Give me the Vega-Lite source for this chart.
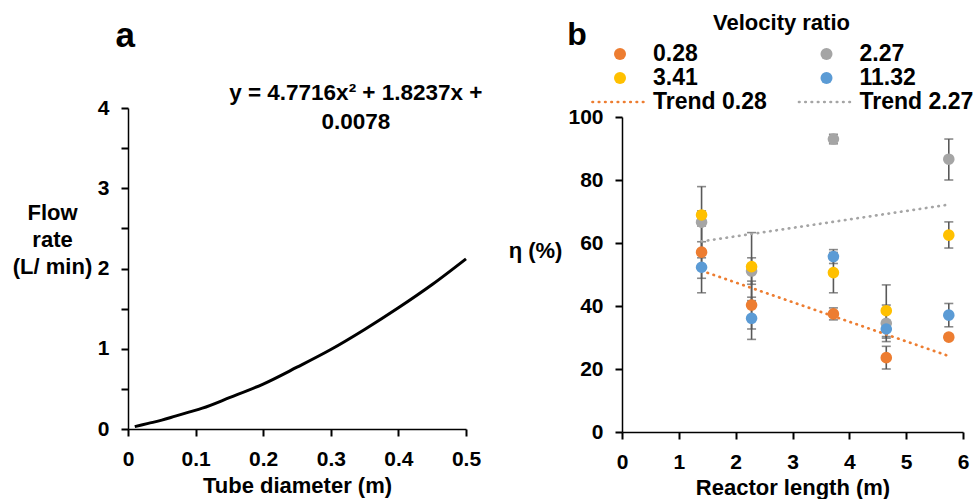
{
  "$schema": "https://vega.github.io/schema/vega-lite/v6.json",
  "background": "white",
  "padding": {"left": 12, "top": 13, "right": 0, "bottom": 0},
  "spacing": 25,
  "center": true,
  "resolve": {"scale": {"color": "independent"}, "legend": {"color": "independent"}},
  "config": {
    "view": {"stroke": null},
    "font": "Liberation Sans",
    "axis": {
      "grid": false, "ticks": true, "tickOpacity": 1,
      "labelFont": "Liberation Sans", "labelFontWeight": "bold", "labelFontSize": 21, "labelColor": "#000",
      "titleFont": "Liberation Sans", "titleFontWeight": "bold", "titleFontSize": 22, "titleColor": "#000",
      "domainColor": "#000", "domainWidth": 1.5, "tickColor": "#000", "tickWidth": 2, "tickSize": 7,
      "labelPadding": 12, "labelFlush": false, "labelOverlap": false
    },
    "legend": {
      "orient": "none", "legendX": -31.5, "legendY": -104, "direction": "horizontal",
      "columns": 2, "titleAnchor": "middle", "titleFont": "Liberation Sans", "titleFontSize": 22,
      "titleFontWeight": "bold", "titleColor": "#000", "titlePadding": 7,
      "labelFont": "Liberation Sans", "labelFontSize": 23, "labelFontWeight": "bold", "labelColor": "#000",
      "labelOffset": 21.5, "labelLimit": 300, "clipHeight": 24, "rowPadding": 0, "columnPadding": 29.5,
      "symbolOffset": 18, "padding": 0
    },
    "text": {"font": "Liberation Sans", "fontWeight": "bold", "color": "#000"}
  },
  "hconcat": [
    {
      "width": 338,
      "height": 321,
      "layer": [
        {
          "data": {"values": [
            {"x": 0.01, "y": 0.03}, {"x": 0.03, "y": 0.07}, {"x": 0.05, "y": 0.11}, {"x": 0.07, "y": 0.16},
            {"x": 0.09, "y": 0.21}, {"x": 0.11, "y": 0.26}, {"x": 0.15, "y": 0.39}, {"x": 0.2, "y": 0.56},
            {"x": 0.25, "y": 0.77}, {"x": 0.3, "y": 0.99}, {"x": 0.35, "y": 1.24}, {"x": 0.4, "y": 1.51},
            {"x": 0.45, "y": 1.8}, {"x": 0.5, "y": 2.12}
          ]},
          "mark": {"type": "line", "color": "#000", "strokeWidth": 3, "interpolate": "monotone"},
          "encoding": {
            "x": {"field": "x", "type": "quantitative", "title": ["Tube diameter (m)", " "],
              "scale": {"domain": [0, 0.5], "nice": false, "zero": false},
              "axis": {"values": [0, 0.05, 0.1, 0.15, 0.2, 0.25, 0.3, 0.35, 0.4, 0.45, 0.5],
                "ticks": true, "tickSize": 7, "tickColor": "#000", "tickWidth": 2, "tickOpacity": 1,
                "labelExpr": "round(datum.value*100) % 10 == 0 ? format(datum.value, '~g') : ''",
                "titleY": 63, "titleBaseline": "alphabetic", "titleLineHeight": 11}},
            "y": {"field": "y", "type": "quantitative", "title": ["Flow", "rate", "(L/ min)"],
              "scale": {"domain": [0, 4], "nice": false},
              "axis": {"values": [0, 0.5, 1, 1.5, 2, 2.5, 3, 3.5, 4],
                "ticks": true, "tickSize": 7, "tickColor": "#000", "tickWidth": 2, "tickOpacity": 1,
                "labelExpr": "datum.value % 1 == 0 ? format(datum.value, '~g') : ''",
                "titleAngle": 0, "titleAlign": "center", "titleBaseline": "middle",
                "titleX": -76, "titleY": 104, "titleLineHeight": 27}}
          }
        },
        {
          "data": {"values": [{"x": 0.337, "y": 4.1, "t": "y = 4.7716x² + 1.8237x +\n0.0078"}]},
          "mark": {"type": "text", "fontSize": 22.5, "lineBreak": "\n", "lineHeight": 29, "baseline": "alphabetic", "align": "center"},
          "encoding": {
            "x": {"field": "x", "type": "quantitative", "title": ["Tube diameter (m)", " "]},
            "y": {"field": "y", "type": "quantitative", "title": ["Flow", "rate", "(L/ min)"]},
            "text": {"field": "t"}
          }
        },
        {
          "data": {"values": [{"x": -0.004, "y": 4.76, "t": "a"}]},
          "mark": {"type": "text", "fontSize": 35, "baseline": "alphabetic", "align": "center"},
          "encoding": {
            "x": {"field": "x", "type": "quantitative", "title": ["Tube diameter (m)", " "]},
            "y": {"field": "y", "type": "quantitative", "title": ["Flow", "rate", "(L/ min)"]},
            "text": {"field": "t"}
          }
        }
      ]
    },
    {
      "width": 341,
      "height": 315,
      "layer": [
        {
          "data": {"name": "pts", "values": [
            {"s": "0.28", "x": 1.4, "y": 57.1, "lo": 48.8, "hi": 65.4},
            {"s": "0.28", "x": 2.28, "y": 40.3, "lo": 32.7, "hi": 47.9},
            {"s": "0.28", "x": 3.72, "y": 37.5, "lo": 35.6, "hi": 39.4},
            {"s": "0.28", "x": 4.65, "y": 23.6, "lo": 20.0, "hi": 27.2},
            {"s": "0.28", "x": 5.75, "y": 30.1, "lo": 29.2, "hi": 31.0},
            {"s": "2.27", "x": 1.4, "y": 66.6, "lo": 55.3, "hi": 77.9},
            {"s": "2.27", "x": 2.28, "y": 51.1, "lo": 46.9, "hi": 55.3},
            {"s": "2.27", "x": 3.72, "y": 93.0, "lo": 91.5, "hi": 94.5},
            {"s": "2.27", "x": 4.65, "y": 34.5, "lo": 28.7, "hi": 40.3},
            {"s": "2.27", "x": 5.75, "y": 86.6, "lo": 80.0, "hi": 93.0},
            {"s": "3.41", "x": 1.4, "y": 68.9, "lo": 67.6, "hi": 70.2},
            {"s": "3.41", "x": 2.28, "y": 52.5, "lo": 41.7, "hi": 63.3},
            {"s": "3.41", "x": 3.72, "y": 50.6, "lo": 44.2, "hi": 57.0},
            {"s": "3.41", "x": 4.65, "y": 38.5, "lo": 30.3, "hi": 46.7},
            {"s": "3.41", "x": 5.75, "y": 62.5, "lo": 58.4, "hi": 66.7},
            {"s": "11.32", "x": 1.4, "y": 52.3, "lo": 44.2, "hi": 60.4},
            {"s": "11.32", "x": 2.28, "y": 36.1, "lo": 29.4, "hi": 42.8},
            {"s": "11.32", "x": 3.72, "y": 55.7, "lo": 53.5, "hi": 57.9},
            {"s": "11.32", "x": 4.65, "y": 32.7, "lo": 29.8, "hi": 35.4},
            {"s": "11.32", "x": 5.75, "y": 37.1, "lo": 33.4, "hi": 40.8}
          ]},
          "mark": {"type": "rule", "color": "#595959", "strokeWidth": 1.6},
          "encoding": {
            "x": {"field": "x", "type": "quantitative", "title": "Reactor length (m)",
              "scale": {"domain": [0, 6], "nice": false},
              "axis": {"values": [0, 0.5, 1, 1.5, 2, 2.5, 3, 3.5, 4, 4.5, 5, 5.5, 6],
                "ticks": true, "tickSize": 7, "tickColor": "#000", "tickWidth": 2, "tickOpacity": 1,
                "labelExpr": "datum.value % 1 == 0 ? format(datum.value, '~g') : ''",
                "titleY": 62, "titleBaseline": "alphabetic"}},
            "y": {"field": "lo", "type": "quantitative", "title": "η (%)",
              "scale": {"domain": [0, 100], "nice": false},
              "axis": {"values": [0, 10, 20, 30, 40, 50, 60, 70, 80, 90, 100],
                "ticks": true, "tickSize": 7, "tickColor": "#000", "tickWidth": 2, "tickOpacity": 1,
                "labelExpr": "datum.value % 20 == 0 ? format(datum.value, '~g') : ''",
                "titleAngle": 0, "titleAlign": "center", "titleBaseline": "middle",
                "titleX": -87, "titleY": 133}},
            "y2": {"field": "hi"}
          }
        },
        {
          "data": {"name": "pts"},
          "mark": {"type": "tick", "orient": "horizontal", "color": "#595959", "size": 9, "thickness": 1.6},
          "encoding": {
            "x": {"field": "x", "type": "quantitative", "title": "Reactor length (m)"},
            "y": {"field": "lo", "type": "quantitative", "title": "η (%)"}
          }
        },
        {
          "data": {"name": "pts"},
          "mark": {"type": "tick", "orient": "horizontal", "color": "#595959", "size": 9, "thickness": 1.6},
          "encoding": {
            "x": {"field": "x", "type": "quantitative", "title": "Reactor length (m)"},
            "y": {"field": "hi", "type": "quantitative", "title": "η (%)"}
          }
        },
        {
          "data": {"values": [
            {"s": "Trend 0.28", "x": 1.4, "y": 51.2},
            {"s": "Trend 0.28", "x": 5.72, "y": 24.3},
            {"s": "Trend 2.27", "x": 1.4, "y": 60.5},
            {"s": "Trend 2.27", "x": 5.72, "y": 72.1}
          ]},
          "mark": {"type": "line", "strokeWidth": 2.7, "strokeDash": [0.5, 5.8], "strokeCap": "round"},
          "encoding": {
            "x": {"field": "x", "type": "quantitative", "title": "Reactor length (m)"},
            "y": {"field": "y", "type": "quantitative", "title": "η (%)"},
            "color": {"field": "s", "type": "nominal", "title": "Velocity ratio",
              "scale": {"domain": ["0.28", "2.27", "3.41", "11.32", "Trend 0.28", "Trend 2.27"],
                "range": ["#ED7D31", "#A5A5A5", "#FFC000", "#5B9BD5", "#ED7D31", "#A5A5A5"]},
              "legend": {
                "encode": {"symbols": {"update": {
                  "shape": {"signal": "indexof('' + datum.value, 'Trend') >= 0 ? 'stroke' : 'circle'"},
                  "size": {"signal": "indexof('' + datum.value, 'Trend') >= 0 ? 3025 : 144"},
                  "strokeWidth": {"signal": "indexof('' + datum.value, 'Trend') >= 0 ? 2.7 : 0"},
                  "strokeDash": {"signal": "indexof('' + datum.value, 'Trend') >= 0 ? [0.5, 5.8] : [1, 0]"},
                  "strokeCap": {"value": "round"},
                  "fill": {"signal": "indexof('' + datum.value, 'Trend') >= 0 ? 'transparent' : (datum.value == '0.28' ? '#ED7D31' : datum.value == '2.27' ? '#A5A5A5' : datum.value == '3.41' ? '#FFC000' : '#5B9BD5')"},
                  "stroke": {"signal": "datum.value == 'Trend 0.28' ? '#ED7D31' : '#A5A5A5'"},
                  "opacity": {"value": 1},
                  "fillOpacity": {"value": 1},
                  "strokeOpacity": {"value": 1}
                }}}
              }}
          }
        },
        {
          "data": {"name": "pts"},
          "mark": {"type": "point", "filled": true, "size": 135, "opacity": 1, "shape": "circle"},
          "encoding": {
            "x": {"field": "x", "type": "quantitative", "title": "Reactor length (m)"},
            "y": {"field": "y", "type": "quantitative", "title": "η (%)"},
            "color": {"field": "s", "type": "nominal", "title": "Velocity ratio",
              "scale": {"domain": ["0.28", "2.27", "3.41", "11.32", "Trend 0.28", "Trend 2.27"],
                "range": ["#ED7D31", "#A5A5A5", "#FFC000", "#5B9BD5", "#ED7D31", "#A5A5A5"]},
              "legend": {
                "encode": {"symbols": {"update": {
                  "shape": {"signal": "indexof('' + datum.value, 'Trend') >= 0 ? 'stroke' : 'circle'"},
                  "size": {"signal": "indexof('' + datum.value, 'Trend') >= 0 ? 3025 : 144"},
                  "strokeWidth": {"signal": "indexof('' + datum.value, 'Trend') >= 0 ? 2.7 : 0"},
                  "strokeDash": {"signal": "indexof('' + datum.value, 'Trend') >= 0 ? [0.5, 5.8] : [1, 0]"},
                  "strokeCap": {"value": "round"},
                  "fill": {"signal": "indexof('' + datum.value, 'Trend') >= 0 ? 'transparent' : (datum.value == '0.28' ? '#ED7D31' : datum.value == '2.27' ? '#A5A5A5' : datum.value == '3.41' ? '#FFC000' : '#5B9BD5')"},
                  "stroke": {"signal": "datum.value == 'Trend 0.28' ? '#ED7D31' : '#A5A5A5'"},
                  "opacity": {"value": 1},
                  "fillOpacity": {"value": 1},
                  "strokeOpacity": {"value": 1}
                }}}
              }}
          }
        },
        {
          "data": {"values": [{"x": -0.79, "y": 122.9, "t": "b"}]},
          "mark": {"type": "text", "fontSize": 32, "baseline": "alphabetic", "align": "center"},
          "encoding": {
            "x": {"field": "x", "type": "quantitative", "title": "Reactor length (m)"},
            "y": {"field": "y", "type": "quantitative", "title": "η (%)"},
            "text": {"field": "t"}
          }
        }
      ]
    }
  ]
}
